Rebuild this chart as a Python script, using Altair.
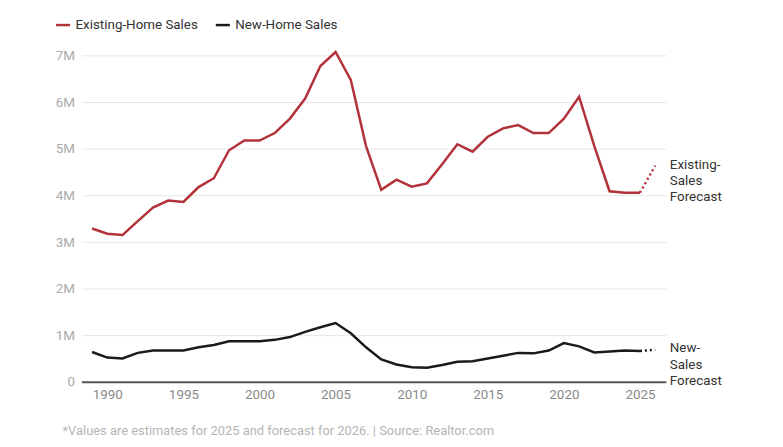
import altair as alt
import pandas as pd

years = list(range(1989, 2027))
existing = [3.29, 3.18, 3.15, 3.45, 3.74, 3.89, 3.86, 4.18, 4.37, 4.97,
            5.18, 5.18, 5.34, 5.65, 6.08, 6.78, 7.08, 6.48, 5.06, 4.12,
            4.34, 4.19, 4.26, 4.67, 5.10, 4.94, 5.26, 5.44, 5.51, 5.34,
            5.34, 5.65, 6.12, 5.06, 4.09, 4.06, 4.06, 4.64]
new = [0.64, 0.52, 0.50, 0.62, 0.67, 0.67, 0.67, 0.74, 0.79, 0.87,
       0.87, 0.87, 0.90, 0.96, 1.07, 1.17, 1.26, 1.04, 0.74, 0.48,
       0.37, 0.31, 0.30, 0.36, 0.43, 0.44, 0.50, 0.56, 0.62, 0.61,
       0.67, 0.83, 0.76, 0.63, 0.65, 0.67, 0.66, 0.69]
series_names = ["Existing-Home Sales", "New-Home Sales"]
series_colors = ["#b3323a", "#1a1a1a"]
annot_text = [["Existing-", "Sales", "Forecast"], ["New-", "Sales", "Forecast"]]
annot_y = [4.66, 0.72]
footnote = "*Values are estimates for 2025 and forecast for 2026. | Source: Realtor.com"

rows = []
for i, y in enumerate(years):
    rows.append({"year": y, "series": series_names[0], "value": existing[i] * 1e6})
    rows.append({"year": y, "series": series_names[1], "value": new[i] * 1e6})
df = pd.DataFrame(rows)
actual = df[df.year <= 2025]
forecast = df[df.year >= 2025]

W, H = 589, 338
x_scale = alt.Scale(domain=[1988.3, 2026.7], nice=False, zero=False)
y_scale = alt.Scale(domain=[0, 7.2e6], nice=False)
color_scale = alt.Scale(domain=series_names, range=series_colors)

x_enc = alt.X("year:Q", scale=x_scale, title=None,
              axis=alt.Axis(values=list(range(1990, 2026, 5)), format="d", grid=False,
                            ticks=False, domainColor="#555555", domainWidth=2,
                            labelColor="#8a8a8a", labelFontSize=13.5, labelPadding=6,
                            labelFont="Roboto"))
y_enc = alt.Y("value:Q", scale=y_scale, title=None,
              axis=alt.Axis(values=[0, 1e6, 2e6, 3e6, 4e6, 5e6, 6e6, 7e6],
                            labelExpr="datum.value == 0 ? '0' : (datum.value / 1e6) + 'M'",
                            domain=False, ticks=False, gridColor="#e6e6e6",
                            labelColor="#aaaaaa", labelFontSize=13.5, labelPadding=7,
                            labelFont="Roboto"))

lines = alt.Chart(actual).mark_line(strokeWidth=2.5).encode(
    x=x_enc, y=y_enc,
    color=alt.Color("series:N", scale=color_scale, title=None,
                    legend=alt.Legend(orient="none", legendX=-27, legendY=-30,
                                      direction="horizontal", symbolType="stroke",
                                      symbolStrokeWidth=2.5, symbolSize=200,
                                      labelFontSize=13.5, labelColor="#333333",
                                      labelFont="Roboto", columnPadding=12)),
)

dotted = alt.Chart(forecast).mark_line(strokeWidth=2.5, strokeDash=[2, 3]).encode(
    x=alt.X("year:Q", scale=x_scale), y=alt.Y("value:Q", scale=y_scale),
    color=alt.Color("series:N", scale=color_scale, legend=None),
)

annot_df = pd.DataFrame({"label": annot_text, "value": [v * 1e6 for v in annot_y]})
annots = alt.Chart(annot_df).mark_text(align="left", baseline="middle", fontSize=13.5,
                                       font="Roboto", color="#333333", lineHeight=16.5,
                                       dx=4).encode(
    x=alt.value(W), y=alt.Y("value:Q", scale=y_scale), text="label"
)

foot = alt.Chart(pd.DataFrame({"t": [footnote]})).mark_text(
    align="left", baseline="middle", fontSize=13, font="Roboto",
    color="#b5b5b5").encode(x=alt.value(-19), y=alt.value(H + 50), text="t")

chart = alt.layer(lines, dotted, annots, foot).properties(
    width=W, height=H,
    autosize=alt.AutoSizeParams(type="none"),
    padding={"left": 74, "top": 37, "right": 110, "bottom": 60},
).configure_view(stroke=None)

chart.save("out.html", embed_options={"renderer": "svg", "actions": False})
